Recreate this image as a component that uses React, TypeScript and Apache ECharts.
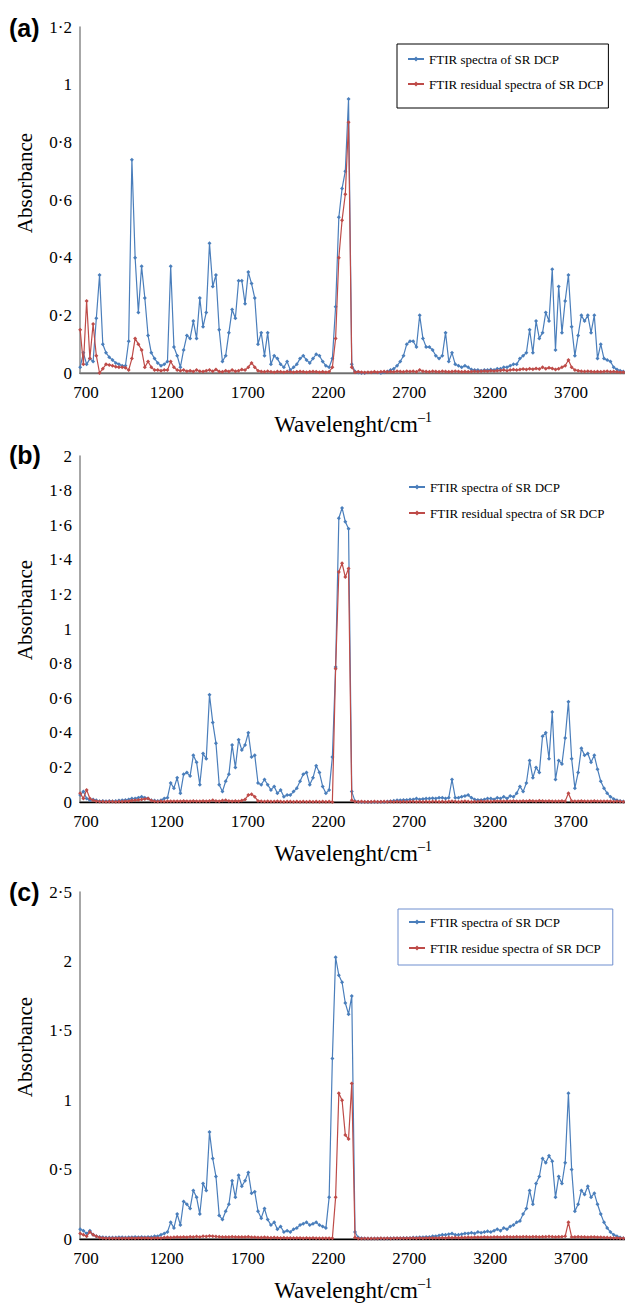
import React, { useEffect, useRef } from "react";
import * as echarts from "echarts";

// Wavenumber grid (cm-1) of the sampled points
const WN_START = 664;
const WN_STEP = 20;
const X_MIN = 663;
const X_MAX = 4034;
const X_TICKS = [700, 1200, 1700, 2200, 2700, 3200, 3700];

const NAME_SPEC = "FTIR spectra of SR DCP";
const NAME_RES = "FTIR residual spectra of SR DCP";
const NAME_RES_C = "FTIR residue spectra of SR DCP";

// Panel (a)
const A_SPEC = [
  0.02, 0.07, 0.03, 0.05, 0.04, 0.19, 0.34, 0.10, 0.07, 0.055,
  0.045, 0.035, 0.03, 0.025, 0.025, 0.11, 0.74, 0.40, 0.21, 0.37,
  0.26, 0.13, 0.07, 0.05, 0.035, 0.025, 0.03, 0.04, 0.37, 0.09,
  0.06, 0.02, 0.08, 0.13, 0.12, 0.18, 0.12, 0.26, 0.16, 0.21,
  0.45, 0.30, 0.34, 0.15, 0.04, 0.06, 0.14, 0.22, 0.19, 0.32,
  0.32, 0.24, 0.35, 0.31, 0.26, 0.10, 0.14, 0.06, 0.14, 0.03,
  0.06, 0.05, 0.03, 0.02, 0.04, 0.01, 0.02, 0.03, 0.05, 0.06,
  0.045, 0.035, 0.05, 0.065, 0.06, 0.04, 0.025, 0.02, 0.05, 0.23,
  0.54, 0.64, 0.70, 0.95, 0.03, 0.005, 0.002, 0, 0, -0.003,
  -0.004, -0.004, -0.003, 0, 0.003, 0.005, 0.01, 0.015, 0.025, 0.04,
  0.06, 0.10, 0.11, 0.11, 0.09, 0.20, 0.12, 0.09, 0.09, 0.08,
  0.06, 0.05, 0.06, 0.14, 0.04, 0.07, 0.03, 0.025, 0.02, 0.025,
  0.02, 0.012, 0.01, 0.01, 0.008, 0.01, 0.01, 0.012, 0.01, 0.015,
  0.015, 0.02, 0.02, 0.025, 0.03, 0.03, 0.05, 0.06, 0.07, 0.15,
  0.07, 0.18, 0.12, 0.14, 0.21, 0.18, 0.36, 0.08, 0.30, 0.14,
  0.25, 0.34, 0.16, 0.06, 0.13, 0.20, 0.18, 0.20, 0.14, 0.20,
  0.05, 0.10, 0.05, 0.045, 0.04, 0.02, 0.012, 0.008, 0.005,
];
const A_RES = [
  0.15, 0.03, 0.25, 0.05, 0.17, 0.06, 0.0, 0.015, 0.03, 0.028,
  0.025, 0.022, 0.02, 0.02, 0.018, 0.01, 0.05, 0.12, 0.10, 0.08,
  0.02, 0.04, 0.02, 0.01, 0.01, 0.008, 0.01, 0.01, 0.04, 0.02,
  0.01, 0.008, 0.01, 0.006, 0.008, 0.005, 0.01, 0.006, 0.005, 0.008,
  0.01, 0.006, 0.012, 0.005, 0.004, 0.008, 0.005, 0.01, 0.006, 0.008,
  0.012, 0.01, 0.02, 0.035, 0.02, 0.008, 0.005, 0.004, 0.006, 0.004,
  0.003, 0.005, 0.004, 0.003, 0.005, 0.004, 0.003, 0.004, 0.005, 0.004,
  0.003, 0.004, 0.005, 0.004, 0.003, 0.004, 0.003, 0.004, 0.02, 0.12,
  0.40, 0.53, 0.62, 0.87, 0.02, 0.003, 0.004, 0.003, 0.002, 0.003,
  0.003, 0.004, 0.003, 0.004, 0.005, 0.004, 0.005, 0.004, 0.006, 0.005,
  0.004, 0.006, 0.005, 0.006, 0.004, 0.01, 0.006, 0.005, 0.004, 0.006,
  0.005, 0.004, 0.006, 0.005, 0.004, 0.005, 0.006, 0.005, 0.004, 0.005,
  0.004, 0.005, 0.006, 0.005, 0.006, 0.007, 0.006, 0.008, 0.007, 0.008,
  0.009, 0.01, 0.008, 0.01, 0.012, 0.01, 0.012, 0.014, 0.012, 0.015,
  0.013, 0.016, 0.014, 0.02, 0.015, 0.018, 0.016, 0.012, 0.015, 0.02,
  0.025, 0.045, 0.02, 0.01, 0.008, 0.006, 0.005, 0.006, 0.005, 0.004,
  0.005, 0.004, 0.005, 0.006, 0.004, 0.005, 0.004, 0.003, 0.003,
];

// Panel (b)
const B_SPEC = [
  0.04, 0.06, 0.02, 0.01, 0.015, 0.01, 0.005, 0.006, 0.004, 0.006,
  0.005, 0.006, 0.008, 0.01, 0.012, 0.015, 0.02, 0.02, 0.025, 0.03,
  0.025, 0.02, 0.01, 0.008, 0.006, 0.01, 0.02, 0.025, 0.11, 0.08,
  0.14, 0.05, 0.16, 0.17, 0.15, 0.27, 0.23, 0.10, 0.28, 0.25,
  0.62, 0.46, 0.34, 0.10, 0.06, 0.12, 0.16, 0.33, 0.20, 0.36,
  0.30, 0.33, 0.40, 0.26, 0.27, 0.11, 0.10, 0.13, 0.10, 0.07,
  0.09, 0.05, 0.07, 0.03, 0.04, 0.04, 0.06, 0.08, 0.12, 0.16,
  0.17, 0.10, 0.14, 0.21, 0.17, 0.09, 0.05, 0.07, 0.26, 0.78,
  1.64, 1.70, 1.62, 1.58, 0.06, 0.005, 0.002, 0, 0, 0,
  0, 0, 0, 0.002, 0, 0.003, 0.005, 0.007, 0.01, 0.01,
  0.012, 0.012, 0.014, 0.015, 0.02, 0.015, 0.018, 0.02, 0.02, 0.022,
  0.02, 0.025, 0.025, 0.02, 0.025, 0.13, 0.025, 0.025, 0.03, 0.035,
  0.04, 0.025, 0.015, 0.012, 0.012, 0.015, 0.02, 0.02, 0.015, 0.025,
  0.02, 0.03, 0.02, 0.035, 0.03, 0.05, 0.09, 0.06, 0.11, 0.24,
  0.14, 0.20, 0.17, 0.38, 0.40, 0.25, 0.52, 0.13, 0.24, 0.22,
  0.37, 0.58, 0.25, 0.08, 0.17, 0.31, 0.27, 0.28, 0.23, 0.27,
  0.19, 0.12, 0.08, 0.05, 0.03, 0.018, 0.01, 0.006, 0.003,
];
const B_RES = [
  0.05, 0.02, 0.07, 0.02, 0.01, 0.005, 0.003, 0.003, 0.002, 0.003,
  0.003, 0.002, 0.003, 0.003, 0.004, 0.005, 0.008, 0.01, 0.012, 0.015,
  0.018, 0.02, 0.008, 0.004, 0.003, 0.004, 0.003, 0.004, 0.005, 0.004,
  0.005, 0.004, 0.006, 0.005, 0.004, 0.006, 0.005, 0.004, 0.006, 0.005,
  0.006, 0.01, 0.006, 0.005, 0.008, 0.01, 0.006, 0.005, 0.006, 0.005,
  0.008, 0.015, 0.04, 0.045, 0.03, 0.006, 0.004, 0.003, 0.004, 0.003,
  0.003, 0.004, 0.003, 0.002, 0.003, 0.003, 0.002, 0.003, 0.002, 0.003,
  0.002, 0.003, 0.002, 0.003, 0.002, 0.003, 0.002, 0.003, 0.0, 0.77,
  1.33, 1.38, 1.30, 1.35, 0.01, 0.003, 0.002, 0.003, 0.002, 0.002,
  0.002, 0.003, 0.002, 0.002, 0.003, 0.002, 0.003, 0.002, 0.003, 0.002,
  0.003, 0.002, 0.003, 0.003, 0.002, 0.003, 0.002, 0.003, 0.002, 0.003,
  0.003, 0.002, 0.003, 0.002, 0.003, 0.004, 0.003, 0.002, 0.003, 0.004,
  0.003, 0.002, 0.003, 0.003, 0.004, 0.003, 0.004, 0.003, 0.004, 0.005,
  0.004, 0.005, 0.004, 0.005, 0.006, 0.005, 0.004, 0.006, 0.005, 0.007,
  0.006, 0.005, 0.007, 0.006, 0.005, 0.006, 0.005, 0.004, 0.005, 0.006,
  0.005, 0.05, 0.006, 0.004, 0.005, 0.006, 0.005, 0.004, 0.005, 0.006,
  0.004, 0.005, 0.004, 0.005, 0.004, 0.003, 0.004, 0.003, 0.002,
];

// Panel (c)
const C_SPEC = [
  0.07, 0.06, 0.04, 0.06, 0.03, 0.02, 0.015, 0.012, 0.01, 0.01,
  0.01, 0.01, 0.012, 0.012, 0.01, 0.012, 0.012, 0.015, 0.012, 0.015,
  0.012, 0.015, 0.015, 0.02, 0.02, 0.03, 0.04, 0.05, 0.12, 0.08,
  0.18, 0.10, 0.27, 0.25, 0.22, 0.35, 0.30, 0.18, 0.40, 0.35,
  0.77, 0.58, 0.45, 0.17, 0.14, 0.20, 0.25, 0.42, 0.30, 0.46,
  0.38, 0.42, 0.48, 0.33, 0.34, 0.20, 0.15, 0.22, 0.14, 0.10,
  0.12, 0.07, 0.09, 0.05, 0.06, 0.05, 0.07, 0.08, 0.10, 0.11,
  0.12, 0.10, 0.11, 0.12, 0.10, 0.09, 0.08, 0.30, 1.30, 2.03,
  1.90, 1.85, 1.70, 1.62, 1.75, 0.05, 0.01, 0.005, 0.004, 0.003,
  0.003, 0.003, 0.004, 0.003, 0.004, 0.004, 0.005, 0.005, 0.006, 0.006,
  0.007, 0.008, 0.008, 0.01, 0.01, 0.012, 0.012, 0.015, 0.015, 0.02,
  0.02, 0.025, 0.03, 0.03, 0.035, 0.04, 0.03, 0.03, 0.035, 0.04,
  0.04, 0.045, 0.04, 0.05, 0.045, 0.05, 0.055, 0.05, 0.06, 0.07,
  0.06, 0.08, 0.07, 0.09, 0.10, 0.12, 0.13, 0.18, 0.22, 0.35,
  0.25, 0.40, 0.45, 0.58, 0.55, 0.60, 0.56, 0.30, 0.45, 0.40,
  0.55, 1.05, 0.50, 0.20, 0.25, 0.35, 0.32, 0.38, 0.30, 0.33,
  0.25, 0.18, 0.12, 0.08, 0.05, 0.03, 0.02, 0.01, 0.005,
];
const C_RES = [
  0.04, 0.03, 0.02, 0.05, 0.03, 0.02, 0.01, 0.008, 0.006, 0.005,
  0.005, 0.006, 0.005, 0.006, 0.005, 0.006, 0.007, 0.006, 0.008, 0.007,
  0.008, 0.007, 0.006, 0.008, 0.007, 0.008, 0.01, 0.012, 0.01, 0.012,
  0.014, 0.012, 0.015, 0.013, 0.016, 0.014, 0.018, 0.015, 0.02, 0.018,
  0.022, 0.02, 0.018, 0.016, 0.015, 0.014, 0.015, 0.016, 0.015, 0.014,
  0.015, 0.014, 0.016, 0.013, 0.012, 0.011, 0.01, 0.012, 0.01, 0.009,
  0.01, 0.009, 0.008, 0.009, 0.008, 0.007, 0.008, 0.007, 0.008, 0.006,
  0.007, 0.006, 0.007, 0.006, 0.005, 0.006, 0.005, 0.006, 0.005, 0.30,
  1.05, 1.00, 0.75, 0.72, 1.12, 0.01, 0.004, 0.003, 0.004, 0.003,
  0.004, 0.003, 0.004, 0.005, 0.004, 0.005, 0.004, 0.005, 0.006, 0.005,
  0.006, 0.005, 0.006, 0.007, 0.006, 0.007, 0.006, 0.008, 0.007, 0.008,
  0.007, 0.008, 0.009, 0.008, 0.01, 0.009, 0.01, 0.009, 0.011, 0.01,
  0.012, 0.011, 0.012, 0.013, 0.012, 0.014, 0.013, 0.012, 0.014, 0.015,
  0.013, 0.014, 0.016, 0.015, 0.014, 0.016, 0.015, 0.017, 0.016, 0.015,
  0.017, 0.016, 0.015, 0.017, 0.016, 0.018, 0.016, 0.015, 0.017, 0.016,
  0.02, 0.12, 0.015, 0.014, 0.016, 0.015, 0.014, 0.013, 0.015, 0.014,
  0.013, 0.012, 0.011, 0.01, 0.009, 0.008, 0.007, 0.006, 0.005,
];

const BLUE = "#4a7ebb";
const RED = "#be4b48";
const SERIF = "Liberation Serif";

const GRIDS = [
  { top: 27, height: 346, yMax: 1.2, yInt: 0.2, topColor: "#6e6e6e" },
  { top: 456, height: 346, yMax: 2, yInt: 0.2, topColor: "#000000" },
  { top: 892, height: 347, yMax: 2.5, yInt: 0.5, topColor: "#000000" },
];

const fmtY = (v: number) => "{s|" + String(Math.round(v * 100) / 100).replace(".", "·") + "}";
const fmtX = (v: number) => String(Math.round(v));

function pairs(vals: number[]) {
  return vals.map((v, i) => [WN_START + i * WN_STEP, v]);
}

export default function App() {
  const ref = useRef<HTMLDivElement>(null);
  useEffect(() => {
    if (!ref.current) return;
    const chart = echarts.init(ref.current, undefined, { renderer: "svg" });

    const grid = GRIDS.map((g) => ({ left: 80, top: g.top, width: 545, height: g.height }));
    const xAxis: any[] = [];
    const yAxis: any[] = [];
    GRIDS.forEach((g, gi) => {
      xAxis.push({
        type: "value",
        gridIndex: gi,
        min: X_MIN,
        max: X_MAX,
        position: "bottom",
        axisLine: { show: true, onZero: false, lineStyle: { color: "#8a8a8a", width: 1.5 } },
        axisTick: { show: false },
        splitLine: { show: false },
        axisLabel: {
          customValues: X_TICKS,
          formatter: fmtX,
          color: "#000",
          fontFamily: SERIF,
          fontSize: 17,
          margin: 11,
        },
      });
      xAxis.push({
        type: "value",
        gridIndex: gi,
        min: X_MIN,
        max: X_MAX,
        position: "top",
        axisLine: { show: true, lineStyle: { color: g.topColor, width: 1.3 } },
        axisTick: { show: false },
        splitLine: { show: false },
        axisLabel: { show: false },
      });
      yAxis.push({
        type: "value",
        gridIndex: gi,
        min: 0,
        max: g.yMax,
        interval: g.yInt,
        axisLine: { show: true, lineStyle: { color: "#8a8a8a", width: 1.5 } },
        axisTick: { show: false },
        splitLine: { show: false },
        axisLabel: {
          formatter: fmtY,
          color: "#000",
          fontFamily: SERIF,
          fontSize: 17,
          margin: 8,
          rich: { s: { fontFamily: SERIF, fontSize: 17, color: "#000" } },
        },
      });
    });

    const mk = (name: string, data: number[], color: string, gi: number, z: number) => ({
      type: "line",
      name,
      xAxisIndex: gi * 2,
      yAxisIndex: gi,
      data: pairs(data),
      symbol: "diamond",
      symbolSize: 4,
      showSymbol: true,
      showAllSymbol: true,
      z,
      lineStyle: { color, width: 1.2 },
      itemStyle: { color },
      emphasis: { disabled: true },
    });

    const series = [
      mk(NAME_SPEC, A_SPEC, BLUE, 0, 2),
      mk(NAME_RES, A_RES, RED, 0, 3),
      mk(NAME_SPEC, B_SPEC, BLUE, 1, 2),
      mk(NAME_RES, B_RES, RED, 1, 3),
      mk(NAME_SPEC, C_SPEC, BLUE, 2, 2),
      mk(NAME_RES_C, C_RES, RED, 2, 3),
    ];

    const legendText = { fontFamily: SERIF, fontSize: 13, color: "#000", lineHeight: 14 };
    const legend = [
      {
        orient: "vertical",
        left: 397,
        top: 44,
        data: [NAME_SPEC, NAME_RES],
        borderColor: "#000",
        borderWidth: 1,
        padding: [8, 5, 17, 10],
        itemGap: 11,
        itemWidth: 16,
        itemHeight: 6,
        selectedMode: false,
        textStyle: legendText,
      },
      {
        orient: "vertical",
        left: 408,
        top: 480,
        data: [NAME_SPEC, NAME_RES],
        padding: 0,
        itemGap: 12,
        itemWidth: 16,
        itemHeight: 6,
        selectedMode: false,
        textStyle: legendText,
      },
      {
        orient: "vertical",
        left: 398,
        top: 909,
        data: [NAME_SPEC, NAME_RES_C],
        borderColor: "#6f8fcf",
        borderWidth: 1,
        padding: [6, 12, 10, 10],
        itemGap: 12,
        itemWidth: 16,
        itemHeight: 6,
        selectedMode: false,
        textStyle: legendText,
      },
    ];

    const panelLabels = [
      { t: "(a)", y: 28 },
      { t: "(b)", y: 455 },
      { t: "(c)", y: 892 },
    ];
    const yTitles = [183, 610, 1047];
    const xTitles = [423, 852, 1289];

    const graphic: any[] = [];
    panelLabels.forEach((p) =>
      graphic.push({
        type: "text",
        x: 9,
        y: p.y,
        style: {
          text: p.t,
          font: "bold 25px Liberation Sans",
          fill: "#000",
          textVerticalAlign: "middle",
        },
      })
    );
    yTitles.forEach((y) =>
      graphic.push({
        type: "text",
        x: 25,
        y,
        rotation: Math.PI / 2,
        style: {
          text: "{t|Absorbance}",
          textAlign: "center",
          textVerticalAlign: "middle",
          rich: {
            t: { fontFamily: SERIF, fontSize: 21, lineHeight: 24, fill: "#000" },
          },
        },
      })
    );
    xTitles.forEach((y) =>
      graphic.push({
        type: "text",
        x: 353,
        y: y - 13,
        style: {
          text: "{a|Wavelenght/cm}{b|–1}",
          textAlign: "center",
          rich: {
            a: { fontFamily: SERIF, fontSize: 23, lineHeight: 26, fill: "#000", verticalAlign: "bottom" },
            b: { fontFamily: SERIF, fontSize: 14, lineHeight: 16, fill: "#000", verticalAlign: "top" },
          },
        },
      })
    );

    chart.setOption({
      animation: false,
      backgroundColor: "#fff",
      grid,
      xAxis,
      yAxis,
      legend,
      series,
      graphic,
    });
    return () => chart.dispose();
  }, []);

  return (
    <div
      ref={ref}
      style={{ position: "absolute", left: 0, top: 0, width: 625, height: 1304, background: "#fff" }}
    />
  );
}
